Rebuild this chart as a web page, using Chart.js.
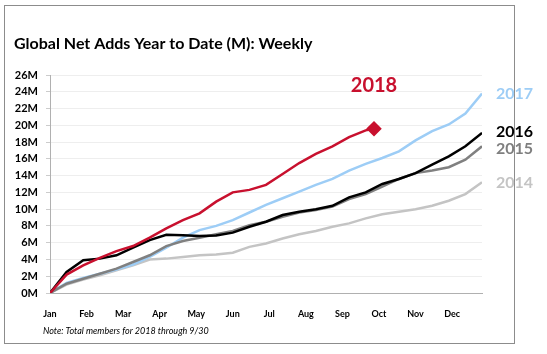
<!DOCTYPE html>
<html>
<head>
<meta charset="utf-8">
<script src="https://cdn.jsdelivr.net/npm/chart.js@4.4.1/dist/chart.umd.min.js"></script>
<style>
  html, body { margin: 0; padding: 0; background: #fff; }
  #wrap { width: 547px; height: 354px; position: relative; }
</style>
</head>
<body>
<div id="wrap"><canvas id="chart" width="547" height="354"></canvas></div>
<script>
// weeks since Jan 1
var weeksFull = [0, 2, 4, 6, 8, 10, 12, 14, 16, 18, 20, 22, 24, 26, 28, 30, 32, 34, 36, 38, 40, 42, 44, 46, 48, 50, 52];
var weeks2018 = [0, 2, 4, 6, 8, 10, 12, 14, 16, 18, 20, 22, 24, 26, 28, 30, 32, 34, 36, 38, 39];

// cumulative net adds, millions
var adds2018 = [0, 2.2, 3.3, 4.2, 5.0, 5.6, 6.6, 7.7, 8.7, 9.5, 10.9, 12.0, 12.3, 12.9, 14.2, 15.5, 16.6, 17.5, 18.6, 19.4, 19.6];
var adds2017 = [0, 1.2, 1.8, 2.3, 2.8, 3.4, 4.3, 5.4, 6.6, 7.5, 8.0, 8.7, 9.6, 10.5, 11.3, 12.1, 12.9, 13.6, 14.6, 15.4, 16.1, 16.9, 18.2, 19.3, 20.1, 21.4, 23.8];
var adds2016 = [0, 2.5, 3.9, 4.1, 4.5, 5.4, 6.3, 6.95, 6.9, 6.8, 6.85, 7.2, 7.9, 8.5, 9.3, 9.7, 10.0, 10.4, 11.4, 12.0, 13.0, 13.6, 14.3, 15.3, 16.3, 17.5, 19.1];
var adds2015 = [0, 1.1, 1.7, 2.3, 2.9, 3.7, 4.5, 5.6, 6.2, 6.6, 7.0, 7.4, 8.1, 8.5, 9.1, 9.6, 9.9, 10.3, 11.2, 11.8, 12.7, 13.6, 14.3, 14.6, 15.0, 15.9, 17.5];
var adds2014 = [0, 1.0, 1.6, 2.1, 2.7, 3.3, 4.0, 4.1, 4.3, 4.5, 4.6, 4.8, 5.5, 5.9, 6.5, 7.0, 7.4, 7.9, 8.3, 8.9, 9.4, 9.7, 10.0, 10.4, 11.0, 11.8, 13.2];

var monthLabels = ['Jan', 'Feb', 'Mar', 'Apr', 'May', 'Jun', 'Jul', 'Aug', 'Sep', 'Oct', 'Nov', 'Dec'];
var monthTicks = [0, 4.4, 8.8, 13.2, 17.6, 22, 26.4, 30.8, 35.2, 39.6, 44, 48.4];

var FONT = 'Lato, "Open Sans", sans-serif';

function points(xs, ys) {
  return ys.map(function(v, i) { return { x: xs[i], y: v }; });
}

function line(label, xs, ys, color) {
  return {
    label: label,
    data: points(xs, ys),
    borderColor: color,
    backgroundColor: color,
    borderWidth: 2.5,
    pointRadius: 0,
    tension: 0,
    fill: false
  };
}

var set2018 = line('2018', weeks2018, adds2018, '#c8102e');
set2018.pointStyle = 'rectRot';
set2018.pointRadius = function(c) { return c.dataIndex === adds2018.length - 1 ? 6 : 0; };

// label text next to the end of each line
var endLabels = [
  { ds: 0, text: '2018', color: '#c8102e', size: 20, dx: 0, dy: -43, align: 'center' },
  { ds: 1, text: '2016', color: '#000000', size: 16, dx: 14, dy: -1, align: 'left' },
  { ds: 2, text: '2015', color: '#7f7f7f', size: 16, dx: 14, dy: 3, align: 'left' },
  { ds: 3, text: '2017', color: '#9dcdf6', size: 16, dx: 14, dy: 0, align: 'left' },
  { ds: 4, text: '2014', color: '#c4c4c4', size: 16, dx: 14, dy: 1, align: 'left' }
];

var decor = {
  id: 'decor',
  afterDraw: function(chart) {
    var ctx = chart.ctx;
    ctx.save();
    ctx.strokeStyle = '#8c8c8c';
    ctx.lineWidth = 1;
    ctx.strokeRect(4.5, 5.5, 510, 338);

    ctx.fillStyle = '#000';
    ctx.font = 'bold 16px ' + FONT;
    ctx.textAlign = 'left';
    ctx.textBaseline = 'alphabetic';
    ctx.fillText('Global Net Adds Year to Date (M): Weekly', 14, 49);

    ctx.font = 'italic 9px ' + FONT;
    ctx.fillText('Note: Total members for 2018 through 9/30', 43, 334);

    endLabels.forEach(function(l) {
      var pts = chart.getDatasetMeta(l.ds).data;
      var p = pts[pts.length - 1];
      ctx.font = 'bold ' + l.size + 'px ' + FONT;
      ctx.fillStyle = l.color;
      ctx.textAlign = l.align;
      ctx.textBaseline = 'middle';
      ctx.fillText(l.text, p.x + l.dx, p.y + l.dy);
    });
    ctx.restore();
  }
};

new Chart(document.getElementById('chart'), {
  type: 'line',
  data: {
    datasets: [
      set2018,
      line('2016', weeksFull, adds2016, '#000000'),
      line('2015', weeksFull, adds2015, '#808080'),
      line('2017', weeksFull, adds2017, '#9dcdf6'),
      line('2014', weeksFull, adds2014, '#c4c4c4')
    ]
  },
  options: {
    responsive: false,
    animation: false,
    layout: { padding: { left: 0, top: 75, right: 65, bottom: 0 } },
    plugins: { legend: { display: false }, tooltip: { enabled: false } },
    scales: {
      x: {
        type: 'linear',
        min: 0,
        max: 52,
        afterFit: function(s) { s.height = 61; },
        afterBuildTicks: function(s) {
          s.ticks = monthTicks.map(function(v) { return { value: v }; });
        },
        grid: { display: false },
        border: { color: '#b0b0b0', width: 1 },
        ticks: {
          autoSkip: false,
          maxRotation: 0,
          padding: 8,
          color: '#000',
          font: { family: FONT, size: 9, weight: 'bold' },
          callback: function(v, i) { return monthLabels[i]; }
        }
      },
      y: {
        min: 0,
        max: 26,
        afterFit: function(s) { s.width = 50; },
        grid: { color: '#eeeeee', tickLength: 4, tickColor: '#cccccc' },
        border: { color: '#b0b0b0', width: 1 },
        ticks: {
          stepSize: 2,
          padding: 8,
          color: '#000',
          font: { family: FONT, size: 11, weight: 'bold' },
          callback: function(v) { return v + 'M'; }
        }
      }
    }
  },
  plugins: [decor]
});
</script>
</body>
</html>
